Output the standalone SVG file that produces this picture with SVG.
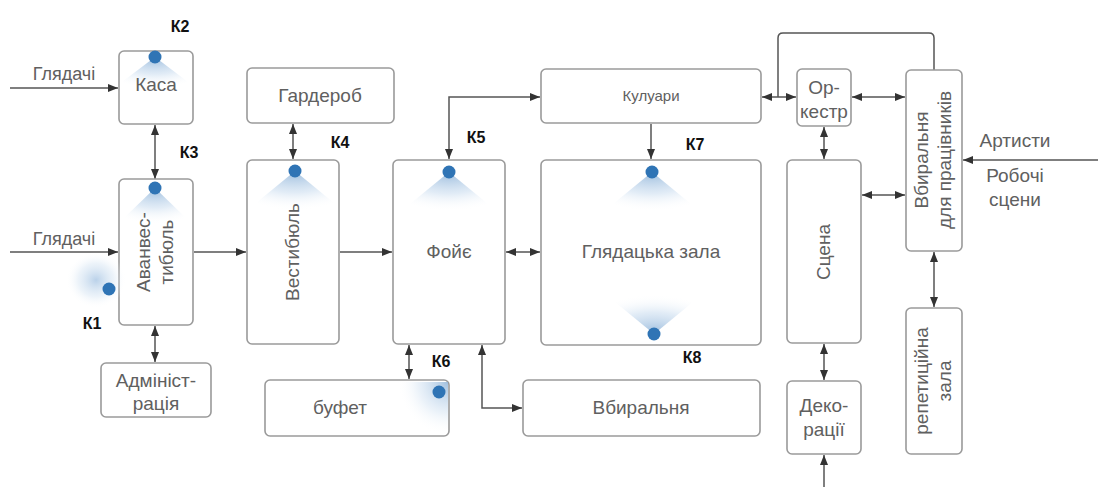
<svg xmlns="http://www.w3.org/2000/svg" width="1098" height="487" viewBox="0 0 1098 487">
<style>
.box{fill:#fff;stroke:#9a9a9a;stroke-width:1.6}
.lbl{font-family:"Liberation Sans",Arial,sans-serif;font-size:19px;fill:#606060;text-anchor:middle}
.k{font-family:"Liberation Sans",Arial,sans-serif;font-size:16px;font-weight:bold;fill:#111;text-anchor:middle}
.c{fill:none;stroke:#555;stroke-width:1.5}
.dot{fill:#2f74b5}
</style>
<defs>
<marker id="ah" viewBox="0 0 10 8" refX="10" refY="4" markerWidth="10" markerHeight="8" markerUnits="userSpaceOnUse" orient="auto-start-reverse">
<path d="M0,0 L10,4 L0,8 Z" fill="#333"/>
</marker>
<radialGradient id="glow" cx="0.5" cy="0" r="1">
<stop offset="0" stop-color="#8fb4d9" stop-opacity="0.9"/>
<stop offset="0.55" stop-color="#c9dcef" stop-opacity="0.55"/>
<stop offset="1" stop-color="#ffffff" stop-opacity="0"/>
</radialGradient>
<radialGradient id="glowUp" cx="0.5" cy="1" r="1">
<stop offset="0" stop-color="#8fb4d9" stop-opacity="0.9"/>
<stop offset="0.55" stop-color="#c9dcef" stop-opacity="0.55"/>
<stop offset="1" stop-color="#ffffff" stop-opacity="0"/>
</radialGradient>
<radialGradient id="glowC" cx="0.5" cy="0.5" r="0.5">
<stop offset="0" stop-color="#a9c6e4" stop-opacity="0.8"/>
<stop offset="0.6" stop-color="#d6e5f3" stop-opacity="0.45"/>
<stop offset="1" stop-color="#ffffff" stop-opacity="0"/>
</radialGradient>
<radialGradient id="glowBR" cx="1" cy="0" r="1">
<stop offset="0" stop-color="#8fb4d9" stop-opacity="0.85"/>
<stop offset="0.6" stop-color="#d2e2f2" stop-opacity="0.45"/>
<stop offset="1" stop-color="#ffffff" stop-opacity="0"/>
</radialGradient>
</defs>
<rect width="1098" height="487" fill="#fff"/>

<g id="connectors">
<path class="c" d="M10,88 H118" marker-end="url(#ah)"/>
<path class="c" d="M10,252 H118" marker-end="url(#ah)"/>
<path class="c" d="M155,125 V179" marker-start="url(#ah)" marker-end="url(#ah)"/>
<path class="c" d="M155,326 V362" marker-start="url(#ah)" marker-end="url(#ah)"/>
<path class="c" d="M194,252 H246" marker-end="url(#ah)"/>
<path class="c" d="M293,124 V159" marker-start="url(#ah)" marker-end="url(#ah)"/>
<path class="c" d="M340,252 H392" marker-end="url(#ah)"/>
<path class="c" d="M449,159 V97 H540" marker-start="url(#ah)" marker-end="url(#ah)"/>
<path class="c" d="M506,252 H540" marker-start="url(#ah)" marker-end="url(#ah)"/>
<path class="c" d="M651,124 V159" marker-end="url(#ah)"/>
<path class="c" d="M409,345 V379" marker-start="url(#ah)" marker-end="url(#ah)"/>
<path class="c" d="M482,345 V408 H522" marker-start="url(#ah)" marker-end="url(#ah)"/>
<path class="c" d="M778,97 H762" marker-end="url(#ah)"/>
<path class="c" d="M778,97 H796" marker-end="url(#ah)"/>
<path class="c" d="M778,97 V38 Q778,33 783,33 H929 Q934,33 934,38 V70"/>
<path class="c" d="M852,97 H905" marker-start="url(#ah)" marker-end="url(#ah)"/>
<path class="c" d="M824,127 V159" marker-start="url(#ah)" marker-end="url(#ah)"/>
<path class="c" d="M862,195 H905" marker-start="url(#ah)" marker-end="url(#ah)"/>
<path class="c" d="M1098,160 H963" marker-end="url(#ah)"/>
<path class="c" d="M934,252 V307" marker-start="url(#ah)" marker-end="url(#ah)"/>
<path class="c" d="M824,344 V380" marker-start="url(#ah)" marker-end="url(#ah)"/>
<path class="c" d="M824,487 V455" marker-end="url(#ah)"/>
</g>

<g id="edge-labels">
<text class="lbl" x="64" y="80" style="font-size:18px">Глядачі</text>
<text class="lbl" x="64" y="245" style="font-size:18px">Глядачі</text>
<text class="lbl" x="1015" y="147">Артисти</text>
<text class="lbl" x="1015" y="182">Робочі</text>
<text class="lbl" x="1015" y="206">сцени</text>
</g>

<g id="kasa">
<rect class="box" x="119" y="51" width="74" height="73" rx="5"/>
<path d="M155,57 L122,82 Q155,95 188,82 Z" fill="url(#glow)"/>
<text class="lbl" x="156" y="91">Каса</text>
<circle class="dot" cx="155" cy="57" r="6.5"/>
</g>

<g id="avanvestybul">
<rect class="box" x="119" y="179" width="74" height="146" rx="5"/>
<path d="M155,188 L124,218 Q155,230 186,218 Z" fill="url(#glow)"/>
<text class="lbl" transform="rotate(-90 156 252)" x="156" y="246">Аванвес-</text>
<text class="lbl" transform="rotate(-90 156 252)" x="156" y="269">тибюль</text>
<circle class="dot" cx="155" cy="188" r="6.5"/>
</g>

<g id="k1">
<ellipse cx="96" cy="280" rx="30" ry="28" fill="url(#glowC)"/>
<circle class="dot" cx="109" cy="289" r="6.5"/>
</g>

<g id="admin">
<rect class="box" x="101" y="363" width="110" height="54" rx="5"/>
<text class="lbl" x="156" y="387">Адмініст-</text>
<text class="lbl" x="156" y="410">рація</text>
</g>

<g id="garderob">
<rect class="box" x="247" y="68" width="147" height="55" rx="5"/>
<text class="lbl" x="320" y="102">Гардероб</text>
</g>

<g id="vestybul">
<rect class="box" x="247" y="160" width="92" height="184" rx="5"/>
<path d="M295,171 L256,203 Q295,218 334,203 Z" fill="url(#glow)"/>
<text class="lbl" transform="rotate(-90 293 252)" x="293" y="258">Вестибюль</text>
<circle class="dot" cx="295" cy="171" r="6.5"/>
</g>

<g id="foie">
<rect class="box" x="393" y="160" width="112" height="184" rx="5"/>
<path d="M449,172 L410,204 Q449,219 488,204 Z" fill="url(#glow)"/>
<text class="lbl" x="449" y="258">Фойє</text>
<circle class="dot" cx="449" cy="172" r="6.5"/>
</g>

<g id="kuluary">
<rect class="box" x="541" y="69" width="220" height="54" rx="5"/>
<text class="lbl" x="651" y="101" style="font-size:15px">Кулуари</text>
</g>

<g id="hall">
<rect class="box" x="541" y="160" width="220" height="185" rx="5"/>
<path d="M652,172 L613,204 Q652,219 691,204 Z" fill="url(#glow)"/>
<path d="M654,334 L615,302 Q654,287 693,302 Z" fill="url(#glowUp)"/>
<text class="lbl" x="651" y="258">Глядацька зала</text>
<circle class="dot" cx="652" cy="172" r="6.5"/>
<circle class="dot" cx="654" cy="334" r="6.5"/>
</g>

<g id="bufet">
<rect class="box" x="265" y="380" width="184" height="56" rx="5"/>
<path d="M448,382 L398,382 L398,435 L448,435 Z" fill="url(#glowBR)"/>
<text class="lbl" x="340" y="414">буфет</text>
<circle class="dot" cx="439" cy="392" r="6.5"/>
</g>

<g id="vbyralnia">
<rect class="box" x="523" y="380" width="237" height="56" rx="5"/>
<text class="lbl" x="641" y="414">Вбиральня</text>
</g>

<g id="orkestr">
<rect class="box" x="797" y="69" width="54" height="57" rx="5"/>
<text class="lbl" x="824" y="94">Ор-</text>
<text class="lbl" x="824" y="118">кестр</text>
</g>

<g id="scena">
<rect class="box" x="787" y="160" width="74" height="183" rx="5"/>
<text class="lbl" transform="rotate(-90 824 252)" x="824" y="258">Сцена</text>
</g>

<g id="dekoracii">
<rect class="box" x="787" y="381" width="74" height="73" rx="5"/>
<text class="lbl" x="824" y="412">Деко-</text>
<text class="lbl" x="824" y="436">рації</text>
</g>

<g id="vbyralnia-pracivnykiv">
<rect class="box" x="906" y="70" width="56" height="181" rx="5"/>
<text class="lbl" transform="rotate(-90 934 160)" x="934" y="154">Вбиральня</text>
<text class="lbl" transform="rotate(-90 934 160)" x="934" y="177">для працівників</text>
</g>

<g id="repetytsiina">
<rect class="box" x="906" y="308" width="56" height="146" rx="5"/>
<text class="lbl" transform="rotate(-90 934 381)" x="934" y="375">репетиційна</text>
<text class="lbl" transform="rotate(-90 934 381)" x="934" y="398">зала</text>
</g>

<g id="k-labels">
<text class="k" x="180" y="32">К2</text>
<text class="k" x="189" y="158">К3</text>
<text class="k" x="92" y="329">К1</text>
<text class="k" x="340" y="148">К4</text>
<text class="k" x="476" y="143">К5</text>
<text class="k" x="441" y="367">К6</text>
<text class="k" x="695" y="150">К7</text>
<text class="k" x="692" y="363">К8</text>
</g>
</svg>
